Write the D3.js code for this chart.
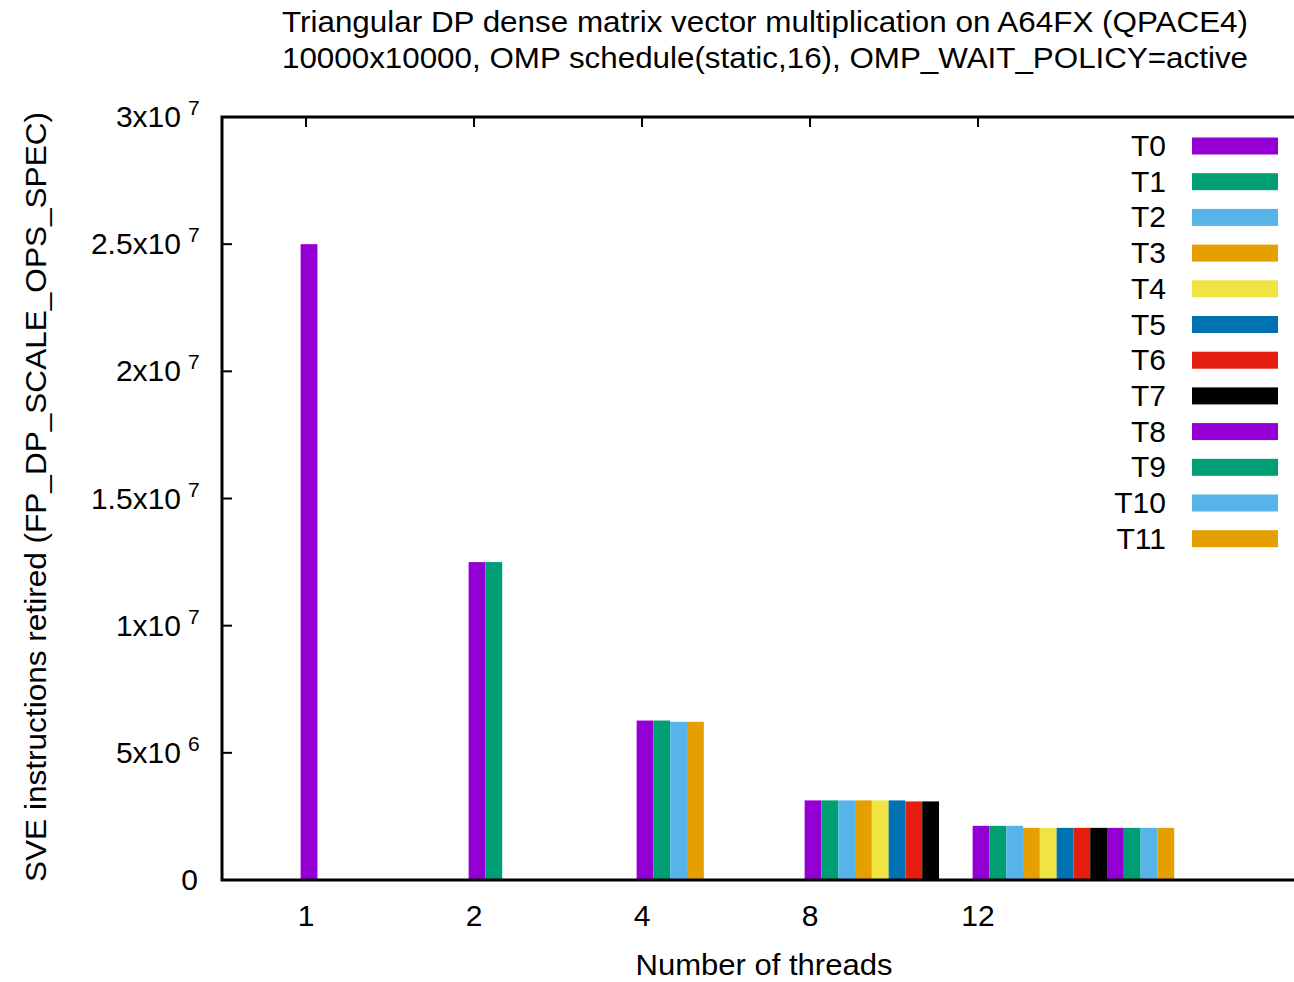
<!DOCTYPE html>
<html>
<head>
<meta charset="utf-8">
<script src="https://cdn.jsdelivr.net/npm/d3@7"></script>
<style>
  html, body { margin: 0; padding: 0; background: #fff; }
  svg { display: block; }
  text { font-family: "Liberation Sans", Arial, Helvetica, sans-serif; fill: #000; }
</style>
</head>
<body>
<svg id="chart" width="1294" height="982"></svg>
<script>
// ---- data ----
const titleLines = [
  "Triangular DP dense matrix vector multiplication on A64FX (QPACE4)",
  "10000x10000, OMP schedule(static,16), OMP_WAIT_POLICY=active"
];
const xTitle = "Number of threads";
const yTitle = "SVE instructions retired (FP_DP_SCALE_OPS_SPEC)";
const threadCounts = ["1", "2", "4", "8", "12"];
const seriesNames = ["T0","T1","T2","T3","T4","T5","T6","T7","T8","T9","T10","T11"];
const seriesColors = ["#9400d3","#009e73","#56b4e9","#e69f00","#f0e442","#0072b2",
                      "#e51e10","#000000","#9400d3","#009e73","#56b4e9","#e69f00"];
// values per series, one entry per thread count (null = thread not present)
const T0  = [25.0e6, 12.5e6, 6.27e6, 3.13e6, 2.13e6];
const T1  = [null,   12.5e6, 6.27e6, 3.13e6, 2.13e6];
const T2  = [null,   null,   6.22e6, 3.13e6, 2.13e6];
const T3  = [null,   null,   6.22e6, 3.13e6, 2.05e6];
const T4  = [null,   null,   null,   3.13e6, 2.05e6];
const T5  = [null,   null,   null,   3.13e6, 2.05e6];
const T6  = [null,   null,   null,   3.09e6, 2.05e6];
const T7  = [null,   null,   null,   3.09e6, 2.05e6];
const T8  = [null,   null,   null,   null,   2.05e6];
const T9  = [null,   null,   null,   null,   2.05e6];
const T10 = [null,   null,   null,   null,   2.05e6];
const T11 = [null,   null,   null,   null,   2.05e6];
const seriesValues = [T0,T1,T2,T3,T4,T5,T6,T7,T8,T9,T10,T11];
const yTickValues = [0, 5e6, 1e7, 1.5e7, 2e7, 2.5e7, 3e7];
const yTickMantissa = ["0", "5", "1", "1.5", "2", "2.5", "3"];
const yTickExponent = [null, "6", "7", "7", "7", "7", "7"];

// ---- layout ----
const svg = d3.select("#chart");
const plot = { left: 222, top: 117, bottom: 880, right: 1314 };
const barW = 0.1;         // bar width in category units
const barOffset = -0.032; // start of first bar relative to the category tick
const fs = 30;

const x = d3.scaleLinear().domain([-0.5, 6]).range([plot.left, plot.right]);
const y = d3.scaleLinear().domain([0, 3e7]).range([plot.bottom, plot.top]);

// ticks (drawn beneath the bars)
const tickLen = 10;
const tg = svg.append("g").attr("stroke", "#000").attr("stroke-width", 2);
threadCounts.forEach((t, i) => {
  tg.append("line").attr("x1", x(i)).attr("x2", x(i)).attr("y1", plot.bottom).attr("y2", plot.bottom - tickLen);
  tg.append("line").attr("x1", x(i)).attr("x2", x(i)).attr("y1", plot.top).attr("y2", plot.top + tickLen);
});
yTickValues.forEach(v => {
  tg.append("line").attr("x1", plot.left).attr("x2", plot.left + tickLen).attr("y1", y(v)).attr("y2", y(v));
});

// bars
const barData = [];
seriesValues.forEach((vals, s) => {
  vals.forEach((v, i) => {
    if (v != null) barData.push({ s, i, v });
  });
});
svg.append("g").selectAll("rect").data(barData).join("rect")
  .attr("x", d => x(d.i + barOffset + d.s * barW))
  .attr("width", d => x(barW) - x(0))
  .attr("y", d => y(d.v))
  .attr("height", d => y(0) - y(d.v))
  .attr("fill", d => seriesColors[d.s]);

// border (left, top, bottom)
svg.append("path")
  .attr("d", `M${plot.right},${plot.top}H${plot.left}V${plot.bottom}H${plot.right}`)
  .attr("fill", "none").attr("stroke", "#000").attr("stroke-width", 3);

// x tick labels
svg.append("g").selectAll("text").data(threadCounts).join("text")
  .attr("x", (d, i) => x(i))
  .attr("y", 926)
  .attr("text-anchor", "middle")
  .attr("font-size", fs)
  .text(d => d);

// y tick labels
yTickValues.forEach((v, k) => {
  if (yTickExponent[k] == null) {
    svg.append("text").attr("x", 198).attr("y", y(v) + 10)
      .attr("text-anchor", "end").attr("font-size", fs).text(yTickMantissa[k]);
  } else {
    svg.append("text").attr("x", 181).attr("y", y(v) + 10)
      .attr("text-anchor", "end").attr("font-size", fs).text(yTickMantissa[k] + "x10");
    svg.append("text").attr("x", 188).attr("y", y(v) - 2)
      .attr("text-anchor", "start").attr("font-size", 21).text(yTickExponent[k]);
  }
});

// axis titles
svg.append("text")
  .attr("x", 764).attr("y", 975)
  .attr("text-anchor", "middle").attr("font-size", 29)
  .attr("textLength", 257).attr("lengthAdjust", "spacingAndGlyphs")
  .text(xTitle);
svg.append("text")
  .attr("transform", "translate(46,497) rotate(-90)")
  .attr("text-anchor", "middle").attr("font-size", fs)
  .attr("textLength", 770).attr("lengthAdjust", "spacingAndGlyphs")
  .text(yTitle);

// title
svg.append("g").selectAll("text").data(titleLines).join("text")
  .attr("x", 765)
  .attr("y", (d, i) => 32 + i * 36)
  .attr("text-anchor", "middle")
  .attr("font-size", fs)
  .attr("textLength", 966).attr("lengthAdjust", "spacingAndGlyphs")
  .text(d => d);

// legend
const legend = svg.append("g");
seriesNames.forEach((name, k) => {
  const cy = 146 + k * 35.7;
  legend.append("text")
    .attr("x", 1166).attr("y", cy + 10)
    .attr("text-anchor", "end").attr("font-size", fs)
    .text(name);
  legend.append("rect")
    .attr("x", 1192).attr("y", cy - 8.5)
    .attr("width", 86).attr("height", 17)
    .attr("fill", seriesColors[k]);
});
</script>
</body>
</html>
